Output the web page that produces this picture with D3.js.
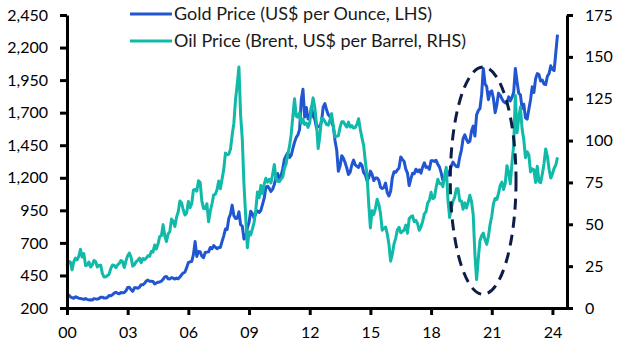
<!DOCTYPE html>
<html>
<head>
<meta charset="utf-8">
<script src="https://cdn.jsdelivr.net/npm/d3@7"></script>
<style>
  body { margin: 0; background: #fff; }
  text { font-family: Lato, "Open Sans", sans-serif; }
</style>
</head>
<body>
<div id="chart"></div>
<script>
// monthly values, Jan 2000 onwards
const goldPrice = [
  284, 300, 286, 280, 275, 286, 282, 275, 273, 270, 266, 272,
  266, 262, 263, 261, 272, 270, 268, 273, 283, 283, 276, 276,
  282, 296, 294, 302, 314, 321, 313, 310, 319, 317, 319, 333,
  357, 359, 340, 328, 355, 356, 351, 360, 379, 379, 389, 407,
  414, 405, 406, 404, 384, 392, 398, 400, 406, 420, 439, 442,
  424, 423, 434, 429, 422, 430, 424, 438, 456, 470, 476, 510,
  549, 555, 557, 610, 710, 596, 633, 632, 598, 586, 627, 629,
  631, 665, 655, 679, 667, 655, 665, 665, 712, 754, 806, 803,
  889, 922, 990, 909, 888, 890, 939, 839, 829, 730, 740, 816,
  858, 943, 924, 890, 928, 946, 934, 949, 996, 1043, 1127, 1135,
  1118, 1095, 1113, 1148, 1205, 1232, 1193, 1215, 1271, 1343, 1370, 1391,
  1356, 1372, 1424, 1473, 1510, 1529, 1572, 1800, 1880, 1666, 1739, 1652,
  1656, 1743, 1674, 1650, 1585, 1596, 1594, 1630, 1744, 1770, 1722, 1684,
  1671, 1627, 1593, 1487, 1414, 1250, 1290, 1370, 1349, 1316, 1275, 1225,
  1244, 1300, 1336, 1299, 1288, 1279, 1311, 1296, 1239, 1222, 1176, 1200,
  1251, 1227, 1178, 1198, 1199, 1181, 1128, 1117, 1125, 1159, 1086, 1060,
  1097, 1200, 1246, 1242, 1260, 1276, 1360, 1341, 1326, 1266, 1236, 1140,
  1192, 1234, 1231, 1266, 1246, 1260, 1236, 1283, 1315, 1280, 1283, 1265,
  1331, 1331, 1325, 1334, 1303, 1282, 1238, 1180, 1198, 1215, 1221, 1250,
  1291, 1320, 1300, 1286, 1284, 1359, 1413, 1500, 1530, 1495, 1471, 1480,
  1560, 1597, 1520, 1683, 1716, 1732, 1840, 2040, 1922, 1900, 1800, 1858,
  1867, 1808, 1700, 1760, 1850, 1834, 1807, 1785, 1775, 1777, 1821, 1790,
  1817, 1856, 2040, 1937, 1849, 1837, 1733, 1765, 1660, 1650, 1726, 1798,
  1898, 1855, 1960, 2000, 1992, 1943, 1951, 1919, 1916, 1980, 2000, 2060,
  2033, 2023, 2160, 2300
];
const oilPrice = [
  25.5, 27.8, 27.5, 22.8, 27.6, 29.8, 28.7, 30.9, 35.0, 30.4, 32.5, 25.3,
  25.6, 27.5, 24.5, 25.7, 28.4, 27.7, 24.5, 25.6, 25.6, 20.5, 18.5, 18.6,
  19.4, 20.3, 23.7, 25.7, 25.4, 24.1, 25.7, 26.6, 28.4, 27.5, 24.2, 28.2,
  31.2, 32.8, 30.3, 25.0, 25.8, 27.6, 28.4, 29.8, 27.1, 29.6, 28.8, 29.8,
  31.2, 30.9, 33.8, 33.4, 37.6, 35.2, 38.2, 42.7, 43.2, 49.8, 43.1, 39.7,
  44.3, 45.6, 53.1, 51.9, 48.7, 54.3, 57.5, 63.9, 62.7, 58.5, 55.5, 56.8,
  63.6, 59.9, 62.3, 70.4, 70.9, 69.8, 76.0, 75.0, 63.8, 59.5, 59.5, 62.3,
  51.5, 57.8, 62.1, 67.5, 67.9, 70.6, 75.8, 71.2, 77.1, 82.8, 92.5, 91.5,
  91.9, 94.9, 103.3, 110.4, 124.6, 133.5, 144.0, 115.2, 100.8, 73.6, 55.0, 36.0,
  45.6, 43.7, 47.3, 51.2, 58.6, 69.3, 65.8, 73.1, 68.2, 73.9, 77.5, 75.2,
  76.9, 74.7, 79.9, 85.7, 77.0, 75.7, 75.5, 77.1, 78.2, 83.5, 86.1, 92.0,
  96.5, 103.7, 114.6, 125.0, 114.5, 113.9, 116.7, 110.2, 112.8, 109.6, 110.5, 107.9,
  110.7, 119.3, 125.5, 119.8, 110.3, 95.2, 102.6, 113.4, 113.0, 111.5, 109.5, 109.2,
  112.3, 116.1, 108.5, 102.3, 102.6, 102.9, 107.9, 111.3, 111.2, 109.5, 108.1, 111.0,
  108.1, 108.9, 107.5, 107.8, 109.7, 113.0, 106.8, 101.6, 97.1, 87.4, 79.4, 62.3,
  47.8, 58.1, 55.9, 59.5, 65.0, 61.9, 56.5, 46.5, 47.6, 48.4, 44.3, 38.0,
  28.0, 32.2, 38.2, 41.6, 46.7, 48.2, 44.9, 45.8, 46.6, 49.5, 44.7, 53.3,
  54.6, 55.0, 51.6, 52.3, 50.3, 46.4, 48.5, 51.7, 56.2, 57.5, 62.7, 64.4,
  69.1, 65.3, 66.0, 72.1, 76.9, 74.4, 74.3, 72.5, 78.9, 84.0, 64.8, 54.0,
  59.4, 63.9, 66.1, 71.2, 71.2, 64.0, 63.9, 59.0, 62.8, 59.7, 63.2, 67.3,
  63.6, 55.7, 32.0, 17.0, 29.4, 40.3, 43.2, 44.7, 40.9, 38.0, 42.7, 49.9,
  54.8, 62.3, 65.4, 64.8, 68.5, 73.2, 75.2, 70.8, 74.5, 85.0, 81.1, 74.2,
  86.5, 97.1, 127.0, 104.6, 113.3, 120.0, 107.0, 100.5, 89.8, 93.3, 91.4, 81.3,
  83.1, 82.7, 75.0, 84.6, 75.5, 74.8, 80.1, 86.2, 95.0, 90.6, 82.9, 77.6,
  80.1, 83.5, 85.4, 90.0
];
const xTickYears = [2000, 2003, 2006, 2009, 2012, 2015, 2018, 2021, 2024];
const xTickLabels = ["00", "03", "06", "09", "12", "15", "18", "21", "24"];
const goldTicks = [200, 450, 700, 950, 1200, 1450, 1700, 1950, 2200, 2450];
const oilTicks = [0, 25, 50, 75, 100, 125, 150, 175];
const seriesNames = ["Gold Price (US$ per Ounce, LHS)", "Oil Price (Brent, US$ per Barrel, RHS)"];
// dashed ring around the 2019-22 period
const ringYears = [2018.95, 2022.2];
const ringGold = [305, 2050];

const margin = {top: 15, right: 60, bottom: 45, left: 67},
    width = 627 - margin.left - margin.right,
    height = 353 - margin.top - margin.bottom;

const goldColor = "#2156d2",
    oilColor = "#10b9a8";

const svg = d3.select("#chart")
  .append("svg")
    .attr("width", width + margin.left + margin.right)
    .attr("height", height + margin.top + margin.bottom)
  .append("g")
    .attr("transform", `translate(${margin.left},${margin.top})`);

const x = d3.scaleLinear()
    .domain([2000, 2024.72])
    .range([0, width]);
const yL = d3.scaleLinear()
    .domain([200, 2450])
    .range([height, 0]);
const yR = d3.scaleLinear()
    .domain([0, 175])
    .range([height, 0]);

const monthYear = i => 2000 + i / 12;

// lines
svg.append("path")
    .datum(goldPrice)
    .attr("fill", "none")
    .attr("stroke", goldColor)
    .attr("stroke-width", 3)
    .attr("stroke-linejoin", "round")
    .attr("d", d3.line().x((d, i) => x(monthYear(i))).y(d => yL(d)));

svg.append("path")
    .datum(oilPrice)
    .attr("fill", "none")
    .attr("stroke", oilColor)
    .attr("stroke-width", 3)
    .attr("stroke-linejoin", "round")
    .attr("d", d3.line().x((d, i) => x(monthYear(i))).y(d => yR(d)));

// ellipse annotation
svg.append("ellipse")
    .attr("cx", (x(ringYears[0]) + x(ringYears[1])) / 2)
    .attr("cy", (yL(ringGold[0]) + yL(ringGold[1])) / 2)
    .attr("rx", (x(ringYears[1]) - x(ringYears[0])) / 2)
    .attr("ry", (yL(ringGold[0]) - yL(ringGold[1])) / 2)
    .attr("fill", "none")
    .attr("stroke", "#0c1e46")
    .attr("stroke-width", 3)
    .attr("stroke-dasharray", "11,7");

// axes
const styleAxis = g => {
  g.select(".domain").attr("stroke", "#000").attr("stroke-width", 3);
  g.selectAll(".tick line").attr("stroke", "#000").attr("stroke-width", 3);
  g.selectAll(".tick text").attr("fill", "#000").style("font-size", "16px");
};

svg.append("g")
    .attr("transform", `translate(0, ${height})`)
    .call(d3.axisBottom(x).tickValues(xTickYears)
      .tickFormat((d, i) => xTickLabels[i]).tickSize(7).tickSizeOuter(0).tickPadding(12))
    .call(styleAxis);

svg.append("g")
    .call(d3.axisLeft(yL).tickValues(goldTicks)
      .tickFormat(d3.format(",")).tickSize(7).tickSizeOuter(0).tickPadding(12))
    .call(styleAxis);

svg.append("g")
    .attr("transform", `translate(${width}, 0)`)
    .call(d3.axisRight(yR).tickValues(oilTicks)
      .tickSize(6).tickSizeOuter(0).tickPadding(12))
    .call(styleAxis);

// legend
const legend = svg.append("g")
    .attr("transform", `translate(${130 - margin.left}, ${14 - margin.top})`);
[goldColor, oilColor].forEach((c, i) => {
  legend.append("line")
      .attr("x1", 0).attr("x2", 42)
      .attr("y1", i * 27).attr("y2", i * 27)
      .attr("stroke", c).attr("stroke-width", 3);
  legend.append("text")
      .attr("x", 44).attr("y", i * 27)
      .attr("dy", "0.35em")
      .style("font-size", "18px")
      .attr("fill", "#1a1a1a")
      .text(seriesNames[i]);
});
</script>
</body>
</html>
